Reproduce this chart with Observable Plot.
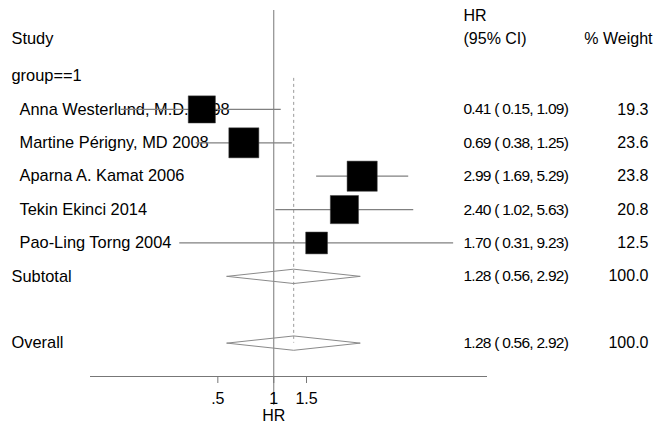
<!DOCTYPE html>
<html>
<head>
<meta charset="utf-8">
<script src="https://cdn.jsdelivr.net/npm/d3@7"></script>
<script src="https://cdn.jsdelivr.net/npm/@observablehq/plot@0.6"></script>
<style>
  html, body { margin: 0; padding: 0; background: #fff; }
  svg { display: block; }
</style>
</head>
<body>
<div id="chart"></div>
<script>
// ---- data ----
const studies = ["Anna Westerlund, M.D. 1998", "Martine Périgny, MD 2008", "Aparna A. Kamat 2006", "Tekin Ekinci 2014", "Pao-Ling Torng 2004"];
const hr = [0.41, 0.69, 2.99, 2.40, 1.70];
const ciLow = [0.15, 0.38, 1.69, 1.02, 0.31];
const ciHigh = [1.09, 1.25, 5.29, 5.63, 9.23];
const weights = [19.3, 23.6, 23.8, 20.8, 12.5];
const pooledHR = 1.28, pooledLow = 0.56, pooledHigh = 2.92, pooledWeight = 100.0;
const groupLabel = "group==1";
const xTicks = [0.5, 1, 1.5];
const xTickLabels = [".5", "1", "1.5"];

// row order (row index is the vertical category position)
const groupRow = 1;
const studyRows = studies.map((s, i) => 2 + i);
const subtotalRow = 2 + studies.length;
const overallRow = subtotalRow + 2;
const axisRow = overallRow + 1;

const studyData = studies.map((s, i) => ({
  label: s, row: studyRows[i], hr: hr[i], lo: ciLow[i], hi: ciHigh[i], w: weights[i],
  ci: `${hr[i].toFixed(2)} ( ${ciLow[i].toFixed(2)}, ${ciHigh[i].toFixed(2)})`,
  wt: weights[i].toFixed(1)
}));
const pooledRows = [
  {label: "Subtotal", row: subtotalRow},
  {label: "Overall", row: overallRow}
].map(d => ({...d, hr: pooledHR, lo: pooledLow, hi: pooledHigh,
  ci: `${pooledHR.toFixed(2)} ( ${pooledLow.toFixed(2)}, ${pooledHigh.toFixed(2)})`,
  wt: pooledWeight.toFixed(1)}));

const halfH = 0.215; // diamond half-height in rows
const diamonds = pooledRows.flatMap(d => [
  {x: d.lo, y: d.row, k: d.label},
  {x: d.hr, y: d.row - halfH, k: d.label},
  {x: d.hi, y: d.row, k: d.label},
  {x: d.hr, y: d.row + halfH, k: d.label},
  {x: d.lo, y: d.row, k: d.label}
]);
const tickData = xTicks.map((v, i) => ({v, t: xTickLabels[i]}));

const font = "Liberation Sans, Arial, Helvetica, sans-serif";

const chart = Plot.plot({
  width: 655,
  height: 427,
  marginLeft: 90,
  marginRight: 168,
  marginTop: 0,
  marginBottom: 51,
  style: {fontFamily: font, fontSize: "16.4px", color: "#000", background: "#fff"},
  x: {type: "log", domain: [0.1032, 14.13], axis: null},
  y: {domain: [-1.263, axisRow], reverse: true, axis: null},
  r: {type: "sqrt", domain: [0, 100], range: [0, 34.9]},
  marks: [
    // left labels
    Plot.text([{t: "Study"}], {text: "t", y: () => 0, frameAnchor: "left", dx: -79, dy: -4, textAnchor: "start", fill: "#000"}),
    Plot.text([{t: groupLabel}], {text: "t", y: () => groupRow, frameAnchor: "left", dx: -79, textAnchor: "start", fill: "#000"}),
    Plot.text(studyData, {text: "label", y: "row", frameAnchor: "left", dx: -71, textAnchor: "start", fill: "#000"}),
    Plot.text(pooledRows, {text: "label", y: "row", frameAnchor: "left", dx: -79, textAnchor: "start", fill: "#000"}),
    // right headers
    Plot.text([{t: "HR"}], {text: "t", y: () => 0, frameAnchor: "right", dx: -24, dy: -27, textAnchor: "start", fill: "#000", fontSize: 16}),
    Plot.text([{t: "(95% CI)"}], {text: "t", y: () => 0, frameAnchor: "right", dx: -24, dy: -4, textAnchor: "start", fill: "#000", fontSize: 16}),
    Plot.text([{t: "% Weight"}], {text: "t", y: () => 0, frameAnchor: "right", dx: 165, dy: -4, textAnchor: "end", fill: "#000", fontSize: 16}),
    // right columns
    Plot.text([...studyData, ...pooledRows], {text: "ci", y: "row", frameAnchor: "right", dx: -24, textAnchor: "start", fill: "#000", fontSize: 15.5}),
    Plot.text([...studyData, ...pooledRows], {text: "wt", y: "row", frameAnchor: "right", dx: 161, textAnchor: "end", fill: "#000", fontSize: 16}),
    // null line
    Plot.ruleX([1], {stroke: "#777", strokeWidth: 1, insetTop: 10, insetBottom: -29}),
    // pooled effect dashed line
    Plot.ruleX([pooledHR], {y1: () => groupRow + 0.07, y2: () => overallRow, stroke: "#999", strokeWidth: 1, strokeDasharray: "3,3"}),
    // CI lines
    Plot.link(studyData, {x1: "lo", x2: "hi", y1: "row", y2: "row", stroke: "#808080", strokeWidth: 1.2}),
    // weight boxes
    Plot.dot(studyData, {x: "hr", y: "row", r: "w", symbol: "square", fill: "#000", stroke: "#444", strokeWidth: 0.5}),
    // diamonds
    Plot.line(diamonds, {x: "x", y: "y", z: "k", stroke: "#8a8a8a", strokeWidth: 1, curve: "linear"}),
    // x axis
    Plot.ruleY([axisRow], {stroke: "#777", strokeWidth: 1}),
    Plot.ruleX(xTicks, {x: d => d, y1: () => axisRow, y2: () => axisRow, insetBottom: -7, stroke: "#777", strokeWidth: 1}),
    Plot.text(tickData, {x: "v", text: "t", frameAnchor: "bottom", dy: 27, fill: "#000", fontSize: 16}),
    Plot.text([{t: "HR"}], {text: "t", x: () => 1, frameAnchor: "bottom", dy: 44, fill: "#000", fontSize: 16})
  ]
});

// slightly condensed spacing for the estimate column (as in the reference rendering)
d3.select(chart).selectAll("text")
  .filter(function() { return /^\d\.\d\d \( /.test(this.textContent); })
  .style("letter-spacing", "-0.75px");

document.getElementById("chart").appendChild(chart);
</script>
</body>
</html>
